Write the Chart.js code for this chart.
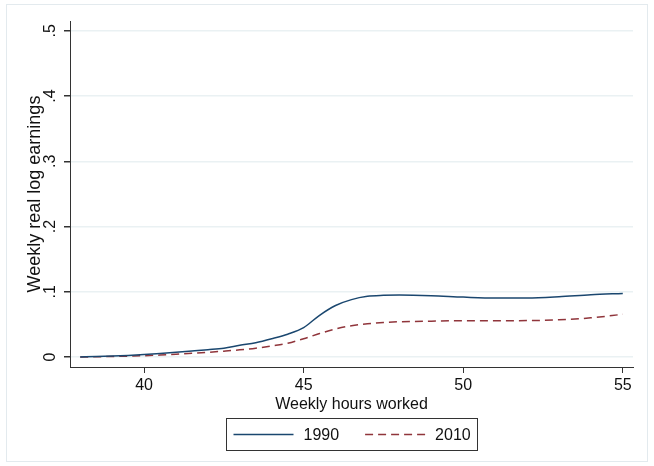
<!DOCTYPE html>
<html>
<head>
<meta charset="utf-8">
<script src="https://cdn.jsdelivr.net/npm/chart.js@4/dist/chart.umd.min.js"></script>
<style>
  html, body { margin: 0; padding: 0; background: #ffffff; }
  canvas { display: block; }
</style>
</head>
<body>
<canvas id="c" width="654" height="466"></canvas>
<script>
// Weekly hours worked (x) and smoothed weekly real log earnings for each year
const hours = [38, 38.5, 39, 39.5, 40, 40.5, 41, 41.5, 42, 42.5, 43, 43.5, 44, 44.5,
               45, 45.5, 46, 46.5, 47, 47.5, 48, 49, 50, 51, 52, 53, 54, 55];
const earnings1990 = [0, 0.0007, 0.0015, 0.0025, 0.0038, 0.0055, 0.0073, 0.0092, 0.0112, 0.0135,
                      0.018, 0.022, 0.028, 0.035, 0.045, 0.064, 0.079, 0.088, 0.093, 0.0945,
                      0.095, 0.094, 0.0918, 0.0903, 0.0905, 0.0925, 0.0955, 0.0975];
const earnings2010 = [0, 0.0004, 0.0008, 0.0014, 0.002, 0.003, 0.0042, 0.0056, 0.0072, 0.009,
                      0.011, 0.0135, 0.017, 0.021, 0.028, 0.036, 0.043, 0.048, 0.051, 0.053,
                      0.054, 0.055, 0.0556, 0.0556, 0.0558, 0.057, 0.0600, 0.0655];
const seriesLabels = ['1990', '2010'];
const xTicks = [40, 45, 50, 55];
const yTicks = [0, 0.1, 0.2, 0.3, 0.4, 0.5];
const yTickLabels = ['0', '.1', '.2', '.3', '.4', '.5'];

const FONT = 'Liberation Sans, Arial, Helvetica, sans-serif';
const TEXT = '#111111';
const NAVY = '#1a476f';
const MAROON = '#90353b';

const toPoints = (ys) => hours.map((h, i) => ({ x: h, y: ys[i] }));

// Light outer frame behind the whole graph
const frame = {
  id: 'frame',
  beforeDraw(chart) {
    const ctx = chart.ctx;
    ctx.save();
    ctx.fillStyle = '#ffffff';
    ctx.fillRect(0, 0, chart.width, chart.height);
    ctx.strokeStyle = '#e3eaee';
    ctx.lineWidth = 1;
    ctx.strokeRect(6.5, 4.5, chart.width - 13, chart.height - 9);
    ctx.restore();
  }
};

// Boxed legend centred under the plot region
const boxedLegend = {
  id: 'boxedLegend',
  afterDraw(chart) {
    const ctx = chart.ctx;
    const area = chart.chartArea;
    ctx.save();
    ctx.font = '16px ' + FONT;
    const sample = 60, gapText = 10, gapItem = 26, pad = 7;
    const items = chart.data.datasets.map(ds => ({
      label: ds.label, color: ds.borderColor, dash: ds.borderDash || [], w: ctx.measureText(ds.label).width
    }));
    let total = pad * 2;
    items.forEach((it, i) => { total += sample + gapText + it.w + (i ? gapItem : 0); });
    const cx = (area.left + area.right) / 2;
    const left = Math.round(cx - total / 2) + 0.5;
    const top = 418.5, h = 32;
    ctx.strokeStyle = '#333333';
    ctx.lineWidth = 1;
    ctx.strokeRect(left, top, Math.round(total), h);
    const midY = top + h / 2;
    let x = left + pad;
    items.forEach((it, i) => {
      if (i) x += gapItem;
      ctx.beginPath();
      ctx.setLineDash(it.dash);
      ctx.strokeStyle = it.color;
      ctx.lineWidth = 1.5;
      ctx.moveTo(x, midY);
      ctx.lineTo(x + sample, midY);
      ctx.stroke();
      ctx.setLineDash([]);
      x += sample + gapText;
      ctx.fillStyle = TEXT;
      ctx.textBaseline = 'middle';
      ctx.textAlign = 'left';
      ctx.fillText(it.label, x, midY + 1);
      x += it.w;
    });
    ctx.restore();
  }
};

new Chart(document.getElementById('c'), {
  type: 'line',
  data: {
    datasets: [
      {
        label: seriesLabels[0],
        data: toPoints(earnings1990),
        borderColor: NAVY,
        borderWidth: 1.5,
        pointRadius: 0,
        cubicInterpolationMode: 'monotone',
        fill: false
      },
      {
        label: seriesLabels[1],
        data: toPoints(earnings2010),
        borderColor: MAROON,
        borderWidth: 1.5,
        borderDash: [8, 5],
        pointRadius: 0,
        cubicInterpolationMode: 'monotone',
        fill: false
      }
    ]
  },
  options: {
    responsive: false,
    animation: false,
    events: [],
    layout: { padding: { left: 0, right: 21, top: 21, bottom: 52 } },
    plugins: {
      legend: { display: false },
      tooltip: { enabled: false }
    },
    scales: {
      x: {
        type: 'linear',
        min: 37.68,
        max: 55.32,
        afterBuildTicks(scale) { scale.ticks = xTicks.map(v => ({ value: v })); },
        afterFit(scale) { scale.height = 47; },
        grid: { drawOnChartArea: false, drawTicks: true, tickLength: 6, tickColor: '#333333', lineWidth: 1 },
        border: { display: true, color: '#333333', width: 1 },
        ticks: {
          padding: 3,
          color: TEXT,
          font: { family: FONT, size: 16 },
          maxRotation: 0,
          callback: (v) => String(v)
        },
        title: {
          display: true,
          text: 'Weekly hours worked',
          color: TEXT,
          font: { family: FONT, size: 16 },
          padding: { top: 0, bottom: 0 }
        }
      },
      y: {
        min: -0.0153,
        max: 0.515,
        afterBuildTicks(scale) { scale.ticks = yTicks.map(v => ({ value: v })); },
        afterFit(scale) { scale.width = 70; },
        grid: { color: '#eaf1f3', lineWidth: 1.5, drawTicks: true, tickLength: 6, tickColor: '#333333' },
        border: { display: true, color: '#333333', width: 1 },
        ticks: {
          padding: 7,
          minRotation: 90,
          maxRotation: 90,
          crossAlign: 'center',
          color: TEXT,
          font: { family: FONT, size: 16 },
          callback: (v) => {
            const i = yTicks.findIndex(t => Math.abs(t - v) < 1e-9);
            return i >= 0 ? yTickLabels[i] : '';
          }
        },
        title: {
          display: true,
          text: 'Weekly real log earnings',
          color: TEXT,
          font: { family: FONT, size: 18 },
          padding: { top: 24, bottom: 0 }
        }
      }
    }
  },
  plugins: [frame, boxedLegend]
});
</script>
</body>
</html>
